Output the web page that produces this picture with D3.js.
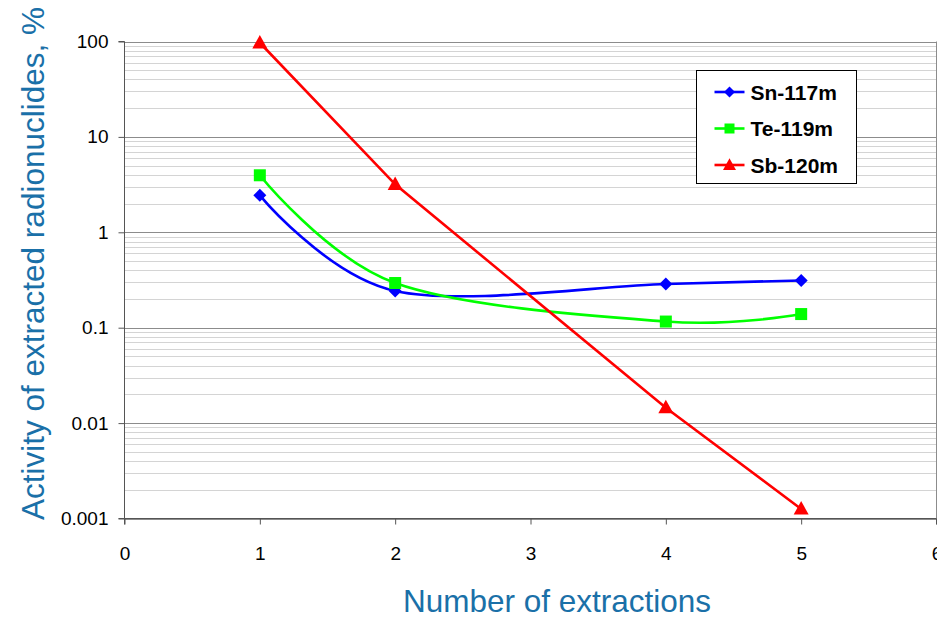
<!DOCTYPE html>
<html>
<head>
<meta charset="utf-8">
<script src="https://cdn.jsdelivr.net/npm/d3@7"></script>
<style>
  html, body { margin: 0; padding: 0; background: #fff; }
  svg { display: block; font-family: Arial, "Liberation Sans", sans-serif; }
</style>
</head>
<body>
<svg id="chart" width="937" height="619"></svg>
<script>
// Extraction numbers and measured activity (%) per radionuclide
const extractions = [1, 2, 4, 5];
const sn117m = [2.44, 0.243, 0.287, 0.313];
const te119m = [3.96, 0.294, 0.116, 0.139];
const sb120m = [97, 3.18, 0.0145, 0.00126];

const seriesNames = ["Sn-117m", "Te-119m", "Sb-120m"];
const seriesColors = ["#0000ff", "#00ff00", "#ff0000"];
const seriesMarkers = ["diamond", "square", "triangle"];
const seriesSmooth = [true, true, false];

const xTicks = [0, 1, 2, 3, 4, 5, 6];
const yTicks = [0.001, 0.01, 0.1, 1, 10, 100];
const yTickLabels = ["0.001", "0.01", "0.1", "1", "10", "100"];

const seriesValues = [sn117m, te119m, sb120m];

const svg = d3.select("#chart");
const plot = { left: 124.5, right: 936.5, top: 41.5, bottom: 518.5 };

const x = d3.scaleLinear().domain([0, 6]).range([plot.left, plot.right]);
const y = d3.scaleLog().domain([0.001, 100]).range([plot.bottom, plot.top]);

// minor gridlines (2..9 within each decade)
const minor = [];
for (let d = -3; d < 2; d++) {
  for (let k = 2; k <= 9; k++) minor.push(k * Math.pow(10, d));
}
svg.append("g").selectAll("line").data(minor).join("line")
  .attr("x1", plot.left).attr("x2", plot.right)
  .attr("y1", d => Math.round(y(d)) + 0.5).attr("y2", d => Math.round(y(d)) + 0.5)
  .attr("stroke", "#d4d4d4").attr("stroke-width", 1);

// major gridlines
svg.append("g").selectAll("line").data(yTicks).join("line")
  .attr("x1", plot.left).attr("x2", plot.right)
  .attr("y1", d => Math.round(y(d)) + 0.5).attr("y2", d => Math.round(y(d)) + 0.5)
  .attr("stroke", "#8c8c8c").attr("stroke-width", 1);

// right border of plot area
svg.append("line")
  .attr("x1", plot.right).attr("x2", plot.right)
  .attr("y1", plot.top).attr("y2", plot.bottom)
  .attr("stroke", "#8c8c8c");

// axes
const yAxis = d3.axisLeft(y).tickValues(yTicks)
  .tickFormat((d, i) => yTickLabels[i]).tickSize(6).tickPadding(10);
const gy = svg.append("g").attr("transform", `translate(${plot.left},0)`).call(yAxis);
gy.select(".domain").attr("stroke", "#555").attr("d", `M-6,${plot.top}H0V${plot.bottom}H-6`);
gy.selectAll(".tick line").attr("stroke", "#555");
gy.selectAll(".tick text").attr("font-size", 19).attr("fill", "#000")
  .attr("font-family", "Arial, 'Liberation Sans', sans-serif");

const xAxis = d3.axisBottom(x).tickValues(xTicks).tickFormat(d3.format("d"))
  .tickSize(6).tickPadding(22);
const gx = svg.append("g").attr("transform", `translate(0,${plot.bottom})`).call(xAxis);
gx.select(".domain").attr("stroke", "#555").attr("d", `M${plot.left},6V0H${plot.right}V6`);
gx.selectAll(".tick line").attr("stroke", "#555");
gx.selectAll(".tick text").attr("font-size", 19).attr("fill", "#000")
  .attr("font-family", "Arial, 'Liberation Sans', sans-serif");

// axis titles
svg.append("text")
  .attr("x", 557).attr("y", 612)
  .attr("text-anchor", "middle")
  .attr("font-size", 31.5).attr("fill", "#1a70a8")
  .text("Number of extractions");

svg.append("text")
  .attr("transform", "translate(44,263.5) rotate(-90)")
  .attr("text-anchor", "middle")
  .attr("font-size", 31.5).attr("fill", "#1a70a8")
  .text("Activity of extracted radionuclides, %");

// marker drawing
function marker(sel, type, color, size) {
  if (type === "diamond") {
    sel.append("path").attr("d", `M0,${-size}L${size},0L0,${size}L${-size},0Z`).attr("fill", color);
  } else if (type === "square") {
    sel.append("rect").attr("x", -size).attr("y", -size)
      .attr("width", 2 * size).attr("height", 2 * size).attr("fill", color);
  } else {
    sel.append("path").attr("d", `M0,${-size * 1.05}L${size},${size * 0.75}L${-size},${size * 0.75}Z`).attr("fill", color);
  }
}
const markerSizes = { diamond: 6.5, square: 6, triangle: 7.5 };

// series lines and markers
seriesValues.forEach((vals, i) => {
  const pts = extractions.map((e, j) => [e, vals[j]]);
  const line = d3.line()
    .x(d => x(d[0])).y(d => y(d[1]))
    .curve(seriesSmooth[i] ? d3.curveCardinal.tension(0) : d3.curveLinear);
  svg.append("path").datum(pts)
    .attr("d", line).attr("fill", "none")
    .attr("stroke", seriesColors[i]).attr("stroke-width", 2.6);
  const g = svg.append("g");
  pts.forEach(p => {
    const m = g.append("g").attr("transform", `translate(${x(p[0])},${y(p[1])})`);
    marker(m, seriesMarkers[i], seriesColors[i], markerSizes[seriesMarkers[i]]);
  });
});

// legend
const lg = svg.append("g").attr("transform", "translate(696.5,70.5)");
lg.append("rect").attr("width", 160).attr("height", 113)
  .attr("fill", "#fff").attr("stroke", "#000").attr("stroke-width", 1);
seriesNames.forEach((name, i) => {
  const row = lg.append("g").attr("transform", `translate(0,${21.5 + i * 36.5})`);
  row.append("line").attr("x1", 18).attr("x2", 48).attr("y1", 0).attr("y2", 0)
    .attr("stroke", seriesColors[i]).attr("stroke-width", 2.6);
  const m = row.append("g").attr("transform", "translate(33,0)");
  marker(m, seriesMarkers[i], seriesColors[i], markerSizes[seriesMarkers[i]] - 1);
  row.append("text").attr("x", 54).attr("y", 7.5)
    .attr("font-size", 21).attr("font-weight", "bold").attr("fill", "#000")
    .text(name);
});
</script>
</body>
</html>
